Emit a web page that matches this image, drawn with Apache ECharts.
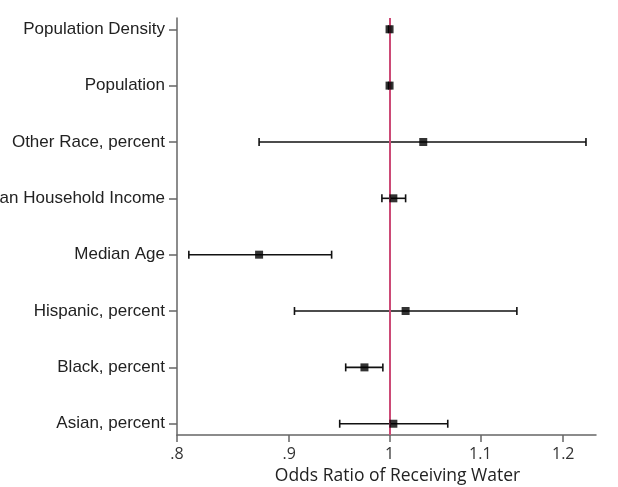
<!DOCTYPE html>
<html>
<head>
<meta charset="utf-8">
<script src="https://cdn.jsdelivr.net/npm/echarts@6/dist/echarts.min.js"></script>
<style>
  html, body { margin: 0; padding: 0; background: #fff; }
  #chart { width: 618px; height: 487px; }
</style>
</head>
<body>
<div id="chart"></div>
<script>
// rows from bottom (1) to top (8)
var variables = ['Asian, percent', 'Black, percent', 'Hispanic, percent', 'Median Age',
    'Median Household Income', 'Other Race, percent', 'Population', 'Population Density'];
var oddsRatio = [1.004, 0.974, 1.017, 0.872, 1.004, 1.036, 1.000, 1.000];
var ciLow = [0.949, 0.955, 0.905, 0.810, 0.992, 0.872, 0.999, 0.999];
var ciHigh = [1.063, 0.993, 1.143, 0.941, 1.017, 1.229, 1.001, 1.001];
var xTicks = [0.8, 0.9, 1, 1.1, 1.2];
var xTickLabels = ['.8', '.9', '1', '1.1', '1.2'];

// odds ratios are drawn on a log scale
var ln = function (v) { return Math.log(v); };

var pointData = oddsRatio.map(function (v, i) { return [ln(v), i + 1]; });
var ciData = oddsRatio.map(function (v, i) { return [ln(ciLow[i]), ln(ciHigh[i]), i + 1]; });
var rows = variables.map(function (v, i) { return i + 1; });

var myChart = echarts.init(document.getElementById('chart'));

var axisColor = '#666';

myChart.setOption({
    animation: false,
    backgroundColor: '#fff',
    grid: { left: 177, right: 22, top: 18, bottom: 52, containLabel: false, outerBoundsMode: 'none' },
    xAxis: {
        type: 'value',
        min: ln(0.8),
        max: ln(1.242),
        name: 'Odds Ratio of Receiving Water',
        nameLocation: 'middle',
        nameGap: 29,
        nameTextStyle: { fontFamily: 'Open Sans', fontSize: 17.5, color: '#222', padding: [0, 0, 0, 22] },
        axisLine: { onZero: false, lineStyle: { color: axisColor, width: 1.5 } },
        axisTick: { show: true, length: 7, customValues: xTicks.map(ln), lineStyle: { color: axisColor, width: 1.5 } },
        axisLabel: {
            customValues: xTicks.map(ln),
            margin: 11,
            fontFamily: 'Open Sans',
            fontSize: 16,
            color: '#333',
            formatter: function (val) {
                for (var i = 0; i < xTicks.length; i++) {
                    if (Math.abs(ln(xTicks[i]) - val) < 1e-6) return xTickLabels[i];
                }
                return '';
            }
        },
        splitLine: { show: false }
    },
    yAxis: {
        type: 'value',
        min: 0.8,
        max: 8.2,
        axisLine: { show: true, onZero: false, lineStyle: { color: axisColor, width: 1.5 } },
        axisTick: { show: true, length: 8, customValues: rows, lineStyle: { color: axisColor, width: 1.5 } },
        axisLabel: {
            customValues: rows,
            margin: 12,
            fontFamily: 'Liberation Sans',
            fontSize: 17,
            color: '#222',
            padding: [3, 0, 0, 0],
            formatter: function (val) { return variables[Math.round(val) - 1] || ''; }
        },
        splitLine: { show: false }
    },
    series: [
        {
            type: 'custom',
            name: 'CI',
            data: ciData,
            encode: { x: [0, 1], y: 2 },
            renderItem: function (params, api) {
                var lo = api.coord([api.value(0), api.value(2)]);
                var hi = api.coord([api.value(1), api.value(2)]);
                var h = 4;
                var style = { stroke: '#111', lineWidth: 1.6, fill: null };
                return {
                    type: 'group',
                    children: [
                        { type: 'line', shape: { x1: lo[0], y1: lo[1], x2: hi[0], y2: hi[1] }, style: style },
                        { type: 'line', shape: { x1: lo[0], y1: lo[1] - h, x2: lo[0], y2: lo[1] + h }, style: style },
                        { type: 'line', shape: { x1: hi[0], y1: hi[1] - h, x2: hi[0], y2: hi[1] + h }, style: style }
                    ]
                };
            },
            z: 2
        },
        {
            type: 'scatter',
            name: 'Odds ratio',
            data: pointData,
            symbol: 'rect',
            symbolSize: 8,
            itemStyle: { color: '#000' },
            z: 4,
            markLine: {
                silent: true,
                symbol: 'none',
                label: { show: false },
                lineStyle: { color: '#cc4a76', width: 2, type: 'solid' },
                data: [{ xAxis: 0 }],
                z: 3
            }
        }
    ]
});
</script>
</body>
</html>
